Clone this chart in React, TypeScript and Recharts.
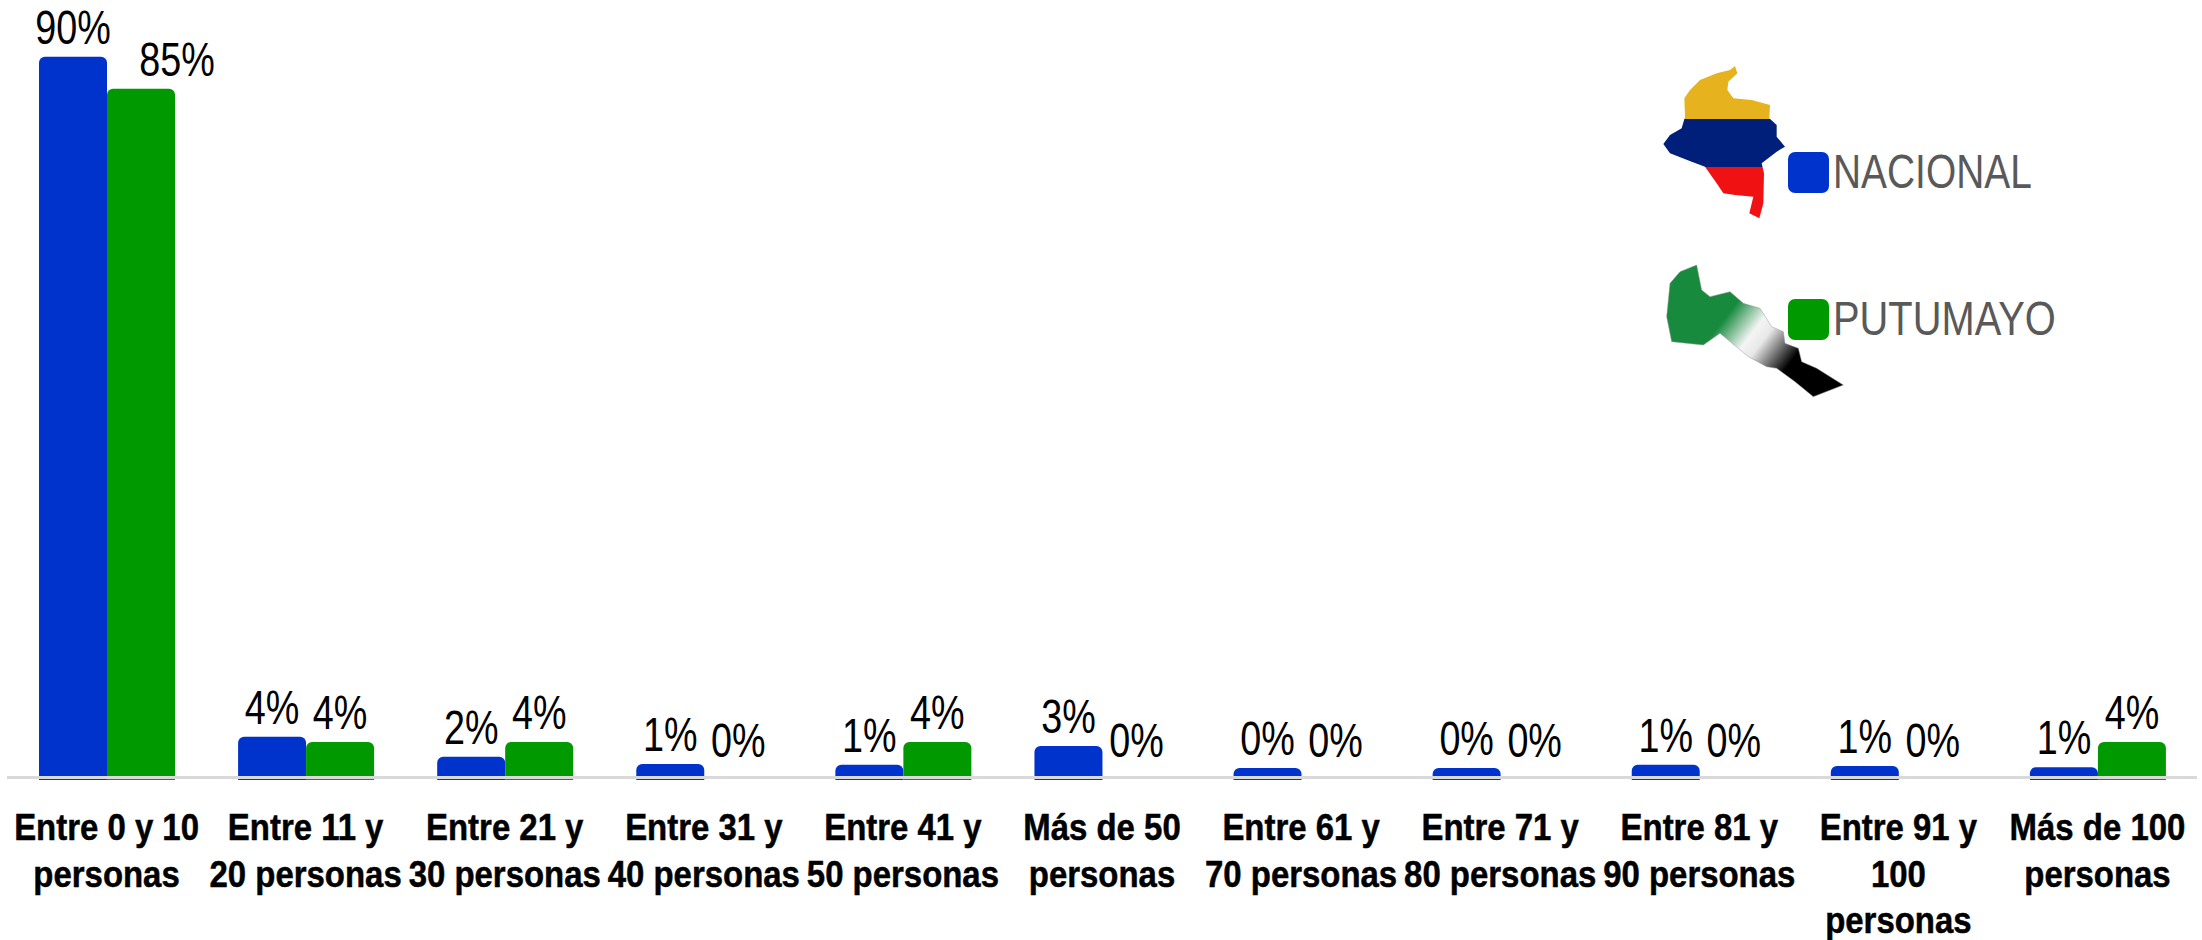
import { Bar, BarChart, LabelList, Legend, ReferenceLine, XAxis, YAxis } from "recharts"

const categoryLines = [
  ["Entre 0 y 10", "personas"],
  ["Entre 11 y", "20 personas"],
  ["Entre 21 y", "30 personas"],
  ["Entre 31 y", "40 personas"],
  ["Entre 41 y", "50 personas"],
  ["Más de 50", "personas"],
  ["Entre 61 y", "70 personas"],
  ["Entre 71 y", "80 personas"],
  ["Entre 81 y", "90 personas"],
  ["Entre 91 y", "100", "personas"],
  ["Más de 100", "personas"],
]

// printed percentages
const nacionalLabels = ["90%", "4%", "2%", "1%", "1%", "3%", "0%", "0%", "1%", "1%", "1%"]
const putumayoLabels = ["85%", "4%", "4%", "0%", "4%", "0%", "0%", "0%", "0%", "0%", "4%"]

// bar lengths; the source bars start a bit below the axis,
// so they run longer than the printed percentages. 0.01 = no visible bar, label only
const nacionalBars = [90.4, 5.4, 2.9, 2, 1.9, 4.25, 1.5, 1.5, 1.9, 1.75, 1.6]
const putumayoBars = [86.4, 4.75, 4.75, 0.01, 4.75, 0.01, 0.01, 0.01, 0.01, 0.01, 4.75]

const rows = categoryLines.map((lines, i) => ({
  category: lines.join(" "),
  nacional: nacionalBars[i],
  putumayo: putumayoBars[i],
  nacionalLabel: nacionalLabels[i],
  putumayoLabel: putumayoLabels[i],
}))

const BLUE = "#0033cc"
const GREEN = "#009900"
const FONT = '"Liberation Sans", Arial, sans-serif'

function CategoryTick({ x, y, payload }: any) {
  const lines = categoryLines[payload.index] ?? [payload.value]
  return (
    <g>
      {lines.map((line, i) => (
        <text
          key={i}
          transform={`translate(${x},${y + 52 + i * 46.5}) scale(0.89,1)`}
          textAnchor="middle"
          fontFamily={FONT}
          fontWeight="bold"
          fontSize={37}
          fill="#000"
          stroke="#000"
          strokeWidth={0.5}
        >
          {line}
        </text>
      ))}
    </g>
  )
}

function PctLabel(props: any) {
  const box = props.viewBox ?? props
  const isEmpty = box.height < 1
  // the 85% label sits off to the right of its bar in the source
  const dx = props.shiftFirst && props.index === 0 ? 36 : 0
  const baseline = isEmpty ? box.y - 23 : box.y - 13
  return (
    <text
      transform={`translate(${box.x + box.width / 2 + dx},${baseline}) scale(0.77,1)`}
      textAnchor="middle"
      fontFamily={FONT}
      fontSize={49}
      fill="#000"
    >
      {props.value}
    </text>
  )
}

function ChartLegend({ payload }: any) {
  const tops = [152, 299]
  const squeeze = [0.81, 0.83]
  return (
    <div style={{ height: 0, position: "relative" }}>
      {(payload ?? []).map((item: any, i: number) => (
        <div key={item.value}>
          <div
            style={{
              position: "absolute",
              left: 1788,
              top: tops[i],
              width: 41,
              height: 41,
              borderRadius: 7,
              background: item.color,
            }}
          />
          <div
            style={{
              position: "absolute",
              left: 1833,
              top: tops[i] - 8,
              fontFamily: FONT,
              fontSize: 48,
              lineHeight: "56px",
              color: "#595959",
              transform: `scaleX(${squeeze[i]})`,
              transformOrigin: "left center",
              whiteSpace: "nowrap",
            }}
          >
            {item.value}
          </div>
        </div>
      ))}
    </div>
  )
}

// the two little map pictures next to the legend, traced roughly
function MapIcons() {
  return (
    <svg
      width={480}
      height={380}
      viewBox="0 0 1440 1140"
      style={{ position: "absolute", left: 1620, top: 40, pointerEvents: "none" }}
    >
      <defs>
        <linearGradient id="flagCol" x1="0" y1="78" x2="0" y2="535" gradientUnits="userSpaceOnUse">
          <stop offset="0.345" stopColor="#e6b31e" />
          <stop offset="0.345" stopColor="#001f7a" />
          <stop offset="0.66" stopColor="#001f7a" />
          <stop offset="0.66" stopColor="#f01212" />
        </linearGradient>
        <linearGradient id="flagPut" x1="300" y1="810" x2="510" y2="970" gradientUnits="userSpaceOnUse">
          <stop offset="0.1" stopColor="#178a3e" />
          <stop offset="0.45" stopColor="#f4f4f4" />
          <stop offset="0.6" stopColor="#e8e8e8" />
          <stop offset="1" stopColor="#000" />
        </linearGradient>
      </defs>
      <path
        fill="url(#flagCol)"
        d="M345 78 L352 100 L325 125 L322 150 L340 175 L395 180 L450 195 L448 235 L470 255 L470 290 L495 320 L470 335 L425 370 L432 400 L430 490 L418 535 L388 520 L400 470 L345 465 L310 460 L290 430 L255 380 L215 365 L150 340 L130 312 L150 285 L185 265 L195 230 L193 175 L210 150 L240 120 L290 100 L330 90 Z"
      />
      <path
        fill="url(#flagPut)"
        stroke="#999"
        strokeWidth={1.5}
        d="M230 675 L245 750 L270 770 L330 755 L370 790 L420 805 L455 860 L490 875 L495 910 L535 925 L545 965 L590 985 L670 1035 L580 1070 L525 1025 L470 985 L440 980 L385 950 L300 880 L250 915 L155 905 L140 830 L150 730 L180 695 Z"
      />
    </svg>
  )
}

export default function App() {
  return (
    <div style={{ position: "absolute", left: 0, top: 0, width: 2202, height: 940, background: "#fff" }}>
      <BarChart
        width={2202}
        height={940}
        data={rows}
        margin={{ top: 20, right: 5, bottom: 130, left: 7 }}
        barCategoryGap={32}
        barGap={0}
      >
        <XAxis
          dataKey="category"
          axisLine={false}
          tickLine={false}
          interval={0}
          height={30}
          tick={<CategoryTick />}
        />
        <YAxis hide domain={[0, 95]} />
        <Legend content={<ChartLegend />} wrapperStyle={{ left: 0, top: 0, width: 2202, height: 0 }} />
        <Bar dataKey="nacional" name="NACIONAL" fill={BLUE} radius={[6, 6, 0, 0]} isAnimationActive={false}>
          <LabelList dataKey="nacionalLabel" content={<PctLabel />} />
        </Bar>
        <Bar dataKey="putumayo" name="PUTUMAYO" fill={GREEN} radius={[6, 6, 0, 0]} isAnimationActive={false}>
          <LabelList dataKey="putumayoLabel" content={<PctLabel shiftFirst />} />
        </Bar>
        <ReferenceLine y={0.3} stroke="#d9d9d9" strokeWidth={3} />
      </BarChart>
      <MapIcons />
    </div>
  )
}
